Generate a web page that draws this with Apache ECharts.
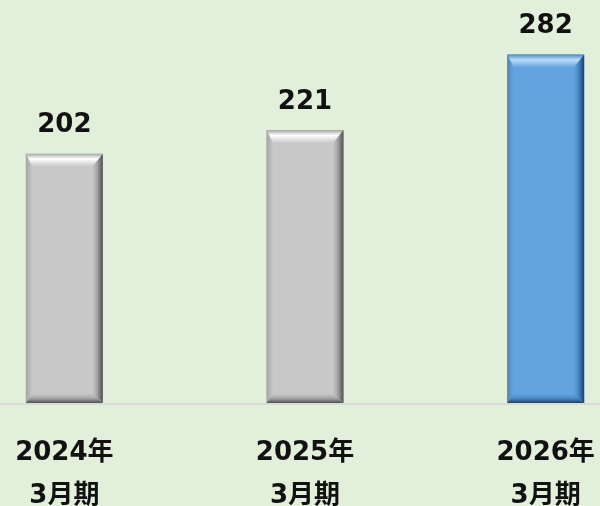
<!DOCTYPE html>
<html>
<head>
<meta charset="utf-8">
<script src="https://cdn.jsdelivr.net/npm/echarts@6/dist/echarts.min.js"></script>
<style>
  html, body { margin: 0; padding: 0; background: #e2efda; }
  #chart { width: 600px; height: 506px; }
</style>
</head>
<body>
<div id="chart"></div>
<script>
// data
const years = ['2024年', '2025年', '2026年']
const periods = ['3月期', '3月期', '3月期']
const values = [202, 221, 282]
const highlight = [false, false, true]

const FONT = '"DejaVu Sans", "Noto Sans CJK JP", sans-serif'

// face / light / dark colours for the bevel
const palette = {
  gray: { face: '#c8c8c8', light: '#ffffff', side: '#a4a4a4', dark: '#4e4e4e' },
  blue: { face: '#62a3e0', light: '#bcdcf8', side: '#4a88c4', dark: '#22405f' }
}

function renderBar (params, api) {
  const idx = api.value(0)
  const val = api.value(1)
  const top = api.coord([idx, val])
  const base = api.coord([idx, 0])
  const w = 77
  const x0 = top[0] - w / 2
  const x1 = top[0] + w / 2
  const y0 = top[1]
  const y1 = base[1] - 1
  const b = 13  // bevel size
  const c = highlight[params.dataIndex] ? palette.blue : palette.gray
  return {
    type: 'group',
    children: [
      { type: 'rect', shape: { x: x0, y: y0, width: w, height: y1 - y0 }, style: { fill: c.face } },
      // top bevel
      {
        type: 'polygon',
        shape: { points: [[x0, y0], [x1, y0], [x1 - b * 0.8, y0 + b], [x0 + b * 0.5, y0 + b]] },
        style: { fill: { type: 'linear', x: 0, y: 0, x2: 0, y2: 1, colorStops: [
          { offset: 0, color: c.side }, { offset: 0.4, color: c.light }, { offset: 1, color: c.face }] } }
      },
      // left bevel
      {
        type: 'polygon',
        shape: { points: [[x0, y0], [x0 + b * 0.5, y0 + b], [x0 + b * 0.5, y1 - b * 0.7], [x0, y1]] },
        style: { fill: { type: 'linear', x: 0, y: 0, x2: 1, y2: 0, colorStops: [
          { offset: 0, color: c.side }, { offset: 1, color: c.face }] } }
      },
      // right bevel
      {
        type: 'polygon',
        shape: { points: [[x1, y0], [x1, y1], [x1 - b * 0.8, y1 - b * 0.7], [x1 - b * 0.8, y0 + b]] },
        style: { fill: { type: 'linear', x: 0, y: 0, x2: 1, y2: 0, colorStops: [
          { offset: 0, color: c.face }, { offset: 0.45, color: c.side }, { offset: 1, color: c.dark }] } }
      },
      // bottom bevel
      {
        type: 'polygon',
        shape: { points: [[x0, y1], [x0 + b * 0.5, y1 - b * 0.7], [x1 - b * 0.8, y1 - b * 0.7], [x1, y1]] },
        style: { fill: { type: 'linear', x: 0, y: 0, x2: 0, y2: 1, colorStops: [
          { offset: 0, color: c.face }, { offset: 0.5, color: c.side }, { offset: 1, color: c.dark }] } }
      },
      // value label
      {
        type: 'text',
        x: top[0],
        y: y0 - 28,
        style: {
          text: String(val),
          fill: '#111',
          font: 'bold 26px ' + FONT,
          align: 'center',
          verticalAlign: 'middle'
        }
      }
    ]
  }
}

const chart = echarts.init(document.getElementById('chart'))
chart.setOption({
  backgroundColor: '#e2efda',
  animation: false,
  grid: { left: -56, right: -66, top: 0, bottom: 102, outerBoundsMode: 'none', containLabel: false },
  xAxis: {
    type: 'category',
    data: years.map((y, i) => y + '\n' + periods[i]),
    axisLine: { lineStyle: { color: '#d3d3d3', width: 1.5 } },
    axisTick: { show: false },
    axisLabel: {
      margin: 28,
      color: '#111',
      fontFamily: FONT,
      fontWeight: 'bold',
      fontSize: 26,
      lineHeight: 43
    }
  },
  yAxis: {
    type: 'value',
    min: 0,
    max: 326,
    show: false,
    splitLine: { show: false }
  },
  series: [{
    type: 'custom',
    renderItem: renderBar,
    encode: { x: 0, y: 1 },
    data: values.map((v, i) => [i, v])
  }]
})
</script>
</body>
</html>
